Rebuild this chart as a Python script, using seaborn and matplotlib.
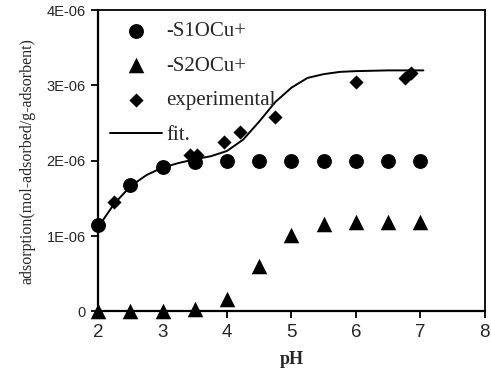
import matplotlib
matplotlib.use("Agg")
import matplotlib.pyplot as plt
import seaborn as sns
import pandas as pd

# data (values in units of 1E-06 mol/g)
ph_model = [2.0, 2.5, 3.0, 3.5, 4.0, 4.5, 5.0, 5.5, 6.0, 6.5, 7.0]
s1ocu = [1.15, 1.68, 1.92, 1.98, 1.99, 2.0, 2.0, 2.0, 2.0, 2.0, 2.0]
s2ocu = [0.0, 0.0, 0.0, 0.03, 0.17, 0.60, 1.02, 1.16, 1.19, 1.19, 1.19]
ph_exp = [2.25, 3.42, 3.54, 3.95, 4.20, 4.75, 6.00, 6.77, 6.86]
exp_vals = [1.45, 2.08, 2.08, 2.25, 2.38, 2.58, 3.04, 3.10, 3.16]
ph_fit = [2.0, 2.25, 2.5, 2.75, 3.0, 3.25, 3.5, 3.75, 4.0, 4.25, 4.5, 4.75,
          5.0, 5.25, 5.5, 5.75, 6.0, 6.5, 7.05]
fit_vals = [1.12, 1.43, 1.66, 1.81, 1.91, 1.97, 2.02, 2.06, 2.13, 2.28, 2.52,
            2.78, 2.97, 3.10, 3.15, 3.18, 3.19, 3.20, 3.20]
scale = 1e-6
yticks = [0, 1e-6, 2e-6, 3e-6, 4e-6]
ytick_labels = ["0", "1E-06", "2E-06", "3E-06", "4E-06"]
xticks = [2, 3, 4, 5, 6, 7, 8]

df_model = pd.DataFrame({"pH": ph_model,
                         "s1": [v * scale for v in s1ocu],
                         "s2": [v * scale for v in s2ocu]})
df_exp = pd.DataFrame({"pH": ph_exp, "v": [v * scale for v in exp_vals]})
df_fit = pd.DataFrame({"pH": ph_fit, "v": [v * scale for v in fit_vals]})

sns.set_style("white")
plt.rcParams["font.family"] = ["Liberation Serif", "DejaVu Serif"]

fig = plt.figure(figsize=(4.91, 3.76), dpi=100)
ax = fig.add_axes([0.200, 0.172, 0.787, 0.801])

sns.scatterplot(data=df_model, x="pH", y="s1", ax=ax, marker="o", s=115,
                color="black", edgecolor="black", linewidth=0, label="-S1OCu+",
                zorder=3, clip_on=False)
sns.scatterplot(data=df_model, x="pH", y="s2", ax=ax, marker="^", s=125,
                color="black", edgecolor="black", linewidth=0, label="-S2OCu+",
                zorder=3, clip_on=False)
sns.scatterplot(data=df_exp, x="pH", y="v", ax=ax, marker="D", s=52,
                color="black", edgecolor="black", linewidth=0,
                label="experimental", zorder=4, clip_on=False)
sns.lineplot(data=df_fit, x="pH", y="v", ax=ax, color="black", linewidth=1.4,
             label="fit.", zorder=5)

ax.set_xlim(2, 8)
ax.set_ylim(0, 4e-6)
ax.set_xticks(xticks)
ax.set_xticklabels([str(t) for t in xticks], fontfamily="Liberation Sans",
                   fontsize=13.5)
ax.set_yticks(yticks)
ax.set_yticklabels(ytick_labels, fontfamily="Liberation Sans", fontsize=10.5)
ax.tick_params(axis="both", direction="out", length=5, width=1.3,
               color="black", pad=4, bottom=True, left=True)
for sp in ax.spines.values():
    sp.set_color("black")
    sp.set_linewidth(1.3)
ax.spines["left"].set_linewidth(1.6)
ax.spines["bottom"].set_linewidth(1.6)

ax.set_xlabel("pH", fontsize=13, fontweight="bold", labelpad=7)
ax.set_ylabel("adsorption(mol-adsorbed/g-adsorbent)", fontsize=11.5,
              labelpad=8)

leg = ax.legend(loc="upper left", bbox_to_anchor=(0.0, 1.0), frameon=False,
                fontsize=15, handlelength=2.5, handletextpad=0.2,
                labelspacing=0.72, borderaxespad=0.55, borderpad=0.0)

fig.savefig("out.png", dpi=100)
